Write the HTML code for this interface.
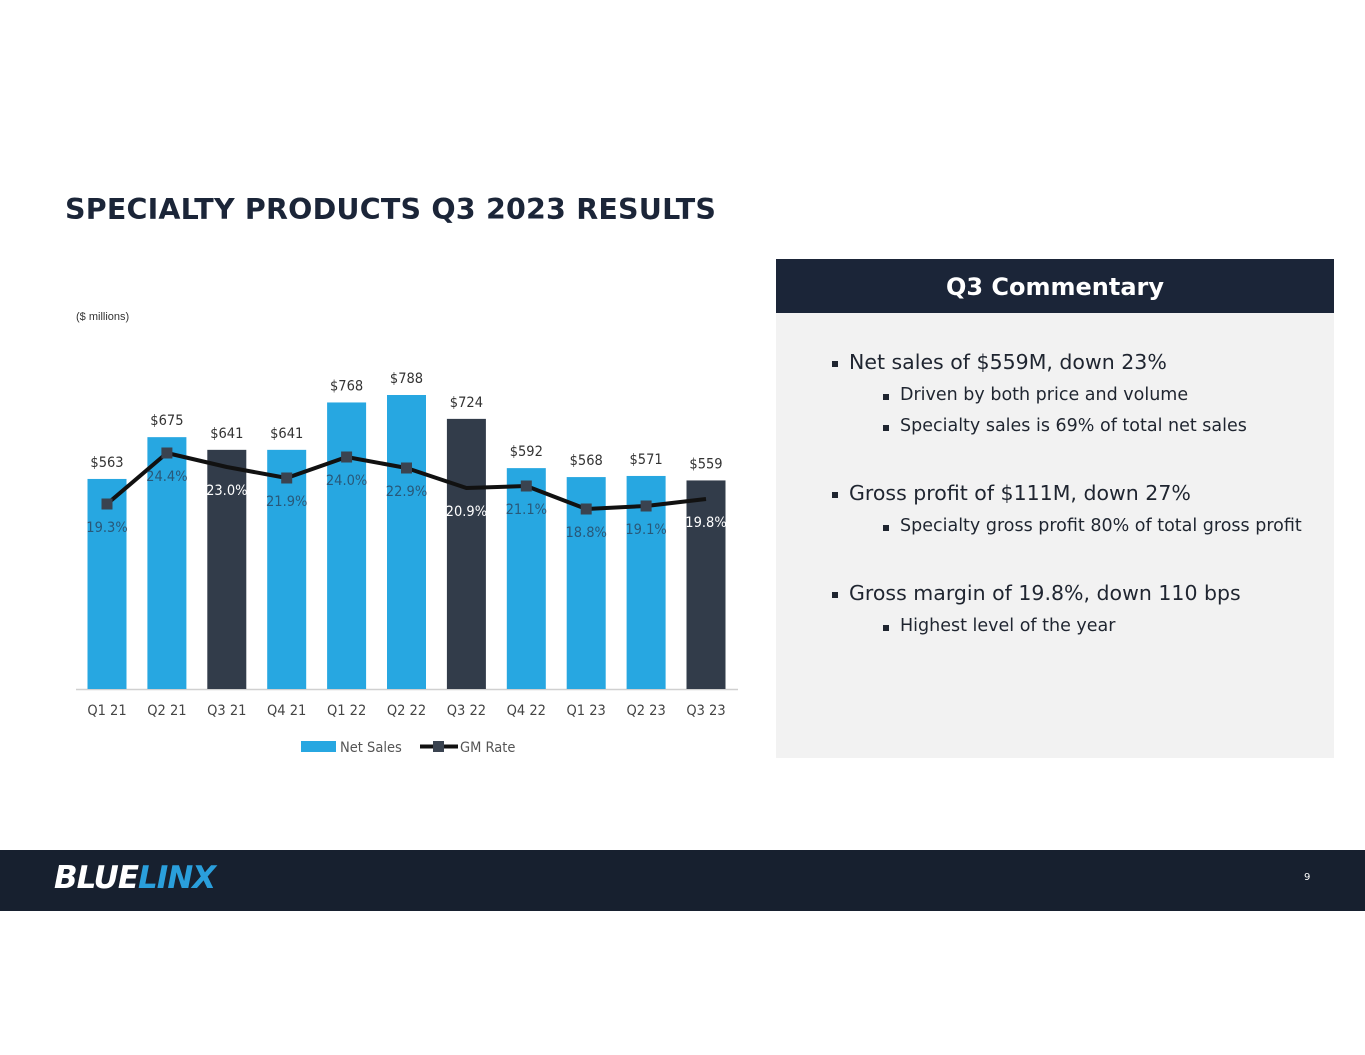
<!DOCTYPE html>
<html><head><meta charset="utf-8">
<style>
body{margin:0;width:1365px;height:1055px;background:#fff;position:relative;overflow:hidden;font-family:"DejaVu Sans","Liberation Sans",sans-serif;}
.abs{position:absolute;}
#title{left:65px;top:193px;font-size:28.5px;font-weight:bold;color:#1b2538;white-space:nowrap;letter-spacing:0.2px;}
#units{left:76px;top:311px;font-size:11px;color:#333;font-family:"Liberation Sans",sans-serif;}
#panel-head{left:776px;top:259px;width:558px;height:54px;background:#1b2538;color:#fff;font-weight:bold;font-size:24px;text-align:center;line-height:56px;}
#panel-body{left:776px;top:313px;width:558px;height:445px;background:#f2f2f2;}
.b1,.b2{position:absolute;white-space:nowrap;color:#1f2530;}
.b1{font-size:20.5px;left:849px;}
.b2{font-size:17.5px;left:900px;}
.b1::before,.b2::before{content:"";position:absolute;background:#1f2530;width:6px;height:6px;}
.b1::before{left:-17px;top:11px;}
.b2::before{left:-17px;top:9px;}
#footer{left:0;top:850px;width:1365px;height:61px;background:#17202f;}
#logo{left:54px;top:860px;font-size:31px;font-weight:900;font-style:italic;font-family:"DejaVu Sans",sans-serif;letter-spacing:-1px;}
#pnum{left:1304px;top:872px;font-size:10px;color:#fff;}
</style></head><body>
<div id="title" class="abs">SPECIALTY PRODUCTS Q3 2023 RESULTS</div>
<div id="units" class="abs">($ millions)</div>
<svg class="abs" style="left:0;top:0" width="760" height="780" id="chart"></svg>
<div id="panel-head" class="abs">Q3 Commentary</div>
<div id="panel-body" class="abs"></div>
<div class="b1" style="top:350px">Net sales of $559M, down 23%</div>
<div class="b2" style="top:385px">Driven by both price and volume</div>
<div class="b2" style="top:416px">Specialty sales is 69% of total net sales</div>
<div class="b1" style="top:481px">Gross profit of $111M, down 27%</div>
<div class="b2" style="top:516px">Specialty gross profit 80% of total gross profit</div>
<div class="b1" style="top:581px">Gross margin of 19.8%, down 110 bps</div>
<div class="b2" style="top:616px">Highest level of the year</div>
<div id="footer" class="abs"></div>
<div id="logo" class="abs"><span style="color:#fff">BLUE</span><span style="color:#2a9fdc">LINX</span></div>
<div id="pnum" class="abs">9</div>
<script>
const categories=["Q1 21","Q2 21","Q3 21","Q4 21","Q1 22","Q2 22","Q3 22","Q4 22","Q1 23","Q2 23","Q3 23"];
const netSales=[563,675,641,641,768,788,724,592,568,571,559];
const gmRate=[19.3,24.4,23.0,21.9,24.0,22.9,20.9,21.1,18.8,19.1,19.8];
const highlight=[false,false,true,false,false,false,true,false,false,false,true];
const NS="http://www.w3.org/2000/svg";
const svg=document.getElementById('chart');
const baseY=689, x0=107, step=59.9, barW=39;
const xPos=i=>x0+i*step;
const ySales=v=>baseY-v*0.3731;
const yRate=v=>697-v*10;
function mk(tag,attrs,parent){const e=document.createElementNS(NS,tag);for(const k in attrs)e.setAttribute(k,attrs[k]);(parent||svg).appendChild(e);return e;}
const fnt='"DejaVu Sans Condensed","DejaVu Sans",sans-serif';
mk('line',{x1:76,x2:738,y1:baseY+0.5,y2:baseY+0.5,stroke:'#d0d0d0','stroke-width':1.5});
netSales.forEach((v,i)=>{
  const b=mk('rect',{x:xPos(i)-barW/2,y:ySales(v),width:barW,height:baseY-ySales(v),fill:highlight[i]?'#323c4a':'#27a7e1'});
  
  
  const t=mk('text',{x:xPos(i),y:ySales(v)-12,'text-anchor':'middle','font-size':14.5,fill:'#333','font-family':fnt});
  t.textContent='$'+v;
  
  
  const c=mk('text',{x:xPos(i),y:baseY+26,'text-anchor':'middle','font-size':14.5,fill:'#444','font-family':fnt});
  c.textContent=categories[i];
  
  
});
const pts=gmRate.map((v,i)=>xPos(i)+','+yRate(v)).join(' ');
const ln=mk('polyline',{points:pts,fill:'none',stroke:'#111','stroke-width':4,'stroke-linejoin':'round'});


gmRate.forEach((v,i)=>{
  if(!highlight[i]){
    const m=mk('rect',{x:xPos(i)-5.5,y:yRate(v)-5.5,width:11,height:11,fill:'#3a4350'});
    
    
  }
  const t=mk('text',{x:xPos(i),y:yRate(v)+28,'text-anchor':'middle','font-size':14.5,fill:highlight[i]?'#ffffff':'#2a3d55','fill-opacity':highlight[i]?1:0.75,'font-family':fnt});
  t.textContent=v.toFixed(1)+'%';
  
  
});
const lg1=mk('rect',{x:301,y:741,width:35,height:11,fill:'#27a7e1'});


const lt1=mk('text',{x:340,y:752,'font-size':14.5,fill:'#555','font-family':fnt});lt1.textContent='Net Sales';


const lg2=mk('line',{x1:420,x2:458,y1:746.5,y2:746.5,stroke:'#111','stroke-width':4});


const lg3=mk('rect',{x:433,y:741,width:11,height:11,fill:'#3a4350'});


const lt2=mk('text',{x:460,y:752,'font-size':14.5,fill:'#555','font-family':fnt});lt2.textContent='GM Rate';


</script>
</body></html>
